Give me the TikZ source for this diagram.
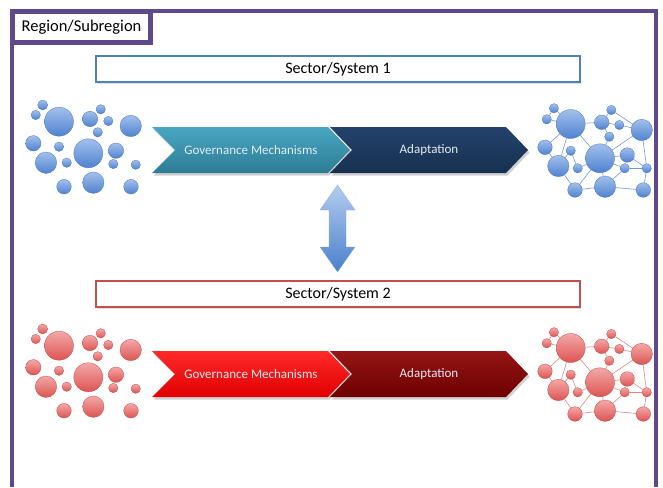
\documentclass[tikz,border=0pt]{standalone}
\usepackage{fontspec}
\setmainfont{Carlito}
\usetikzlibrary{backgrounds,shadows}
\definecolor{framepurple}{HTML}{5E4A8B}
\definecolor{secblue}{HTML}{4F81BD}
\definecolor{secred}{HTML}{C0504D}
\definecolor{tealA}{HTML}{4AA6C2}
\definecolor{tealB}{HTML}{2C7C94}
\definecolor{navyA}{HTML}{24426B}
\definecolor{navyB}{HTML}{16304F}
\definecolor{redA}{HTML}{FF2A2A}
\definecolor{redB}{HTML}{E00000}
\definecolor{dredA}{HTML}{951515}
\definecolor{dredB}{HTML}{6E0000}
\definecolor{bubA}{HTML}{A2C0EC}
\definecolor{bubB}{HTML}{4F82CF}
\definecolor{bubD}{HTML}{4A78BE}
\definecolor{rbubA}{HTML}{F4A8A8}
\definecolor{rbubB}{HTML}{DB5552}
\definecolor{rbubD}{HTML}{C64A48}
\definecolor{arrA}{HTML}{B2CDF0}
\definecolor{arrB}{HTML}{4A7FCB}
\definecolor{chevtext}{HTML}{E4EBF2}
\tikzset{
  framestyle/.style={draw=framepurple,line width=4.5pt},
  sectorbox/.style={draw=#1,line width=1.3pt,fill=white,minimum width=484pt,minimum height=26pt,inner sep=0pt,font=\fontsize{16}{18}\selectfont,
    drop shadow={opacity=0.25,shadow xshift=1pt,shadow yshift=-1.5pt}},
  chevlabel/.style={text=chevtext,font=\fontsize{13}{15}\selectfont,inner sep=1pt},
  chevshadow/.style={fill=black,opacity=0.18},
  bub/.style={circle,inner sep=0pt,minimum size=2*#1,top color=bubA,bottom color=bubB,draw=bubD,line width=0.3pt},
  rbub/.style={circle,inner sep=0pt,minimum size=2*#1,top color=rbubA,bottom color=rbubB,draw=rbubD,line width=0.3pt},
  bedge/.style={draw=bubD!75,line width=0.6pt},
  redge/.style={draw=rbubD!65,line width=0.6pt},
}
\begin{document}
\begin{tikzpicture}[x=1pt,y=-1pt]
\useasboundingbox (0,0) rectangle (663,487);
% frame
\draw[framestyle] (12,487) -- (12,11.25) -- (656,11.25) -- (656,487);
\node[draw=framepurple,line width=5pt,fill=white,minimum width=138pt,minimum height=31pt,inner sep=0pt,font=\fontsize{16.5}{18}\selectfont] (reg) at (81.5,27) {Region/Subregion};
% sector boxes
\node[sectorbox=secblue] (s1) at (338,69) {Sector/System 1};
\node[sectorbox=secred] (s2) at (338,294) {Sector/System 2};
% chevrons
\foreach \dy/\ca/\cb/\cc/\cd in {0/tealA/tealB/navyA/navyB,224/redA/redB/dredA/dredB}{
  \begin{scope}[yshift=-\dy pt]
  \fill[chevshadow] (153.5,129.5) -- (329.5,129.5) -- (351.5,152.5) -- (329.5,175.5) -- (153.5,175.5) -- (176.5,152.5) -- cycle;
  \fill[chevshadow] (331.5,129.5) -- (507.5,129.5) -- (529.5,152.5) -- (507.5,175.5) -- (331.5,175.5) -- (353.5,152.5) -- cycle;
  \shade[top color=\ca,bottom color=\cb] (152,127) -- (328,127) -- (350,150) -- (328,173) -- (152,173) -- (175,150) -- cycle;
  \shade[top color=\cc,bottom color=\cd] (330,127) -- (506,127) -- (528,150) -- (506,173) -- (330,173) -- (352,150) -- cycle;
  \end{scope}
}
\node[chevlabel] (gov1) at (251,150) {Governance Mechanisms};
\node[chevlabel] (ad1) at (429,150) {Adaptation};
\node[chevlabel] (gov2) at (251,374) {Governance Mechanisms};
\node[chevlabel] (ad2) at (429,374) {Adaptation};
% double arrow
\shade[top color=arrA,bottom color=arrB,draw=bubD!60,line width=0.3pt]
  (337.5,185) -- (355,210) -- (346,210) -- (346,247) -- (355,247) -- (337.5,272) -- (320,247) -- (329,247) -- (329,210) -- (320,210) -- cycle;
% bubble clusters
\foreach \x/\y/\r [count=\i] in {42.7/105/5, 35.7/115/4.7, 59/121.7/14.5, 90/119/7.7, 100.7/109.3/4.7, 108.3/121/4.7, 130.7/126/10.7, 97.7/132.3/4.7, 33.3/143.3/7.7, 59/146.7/4.7, 88.3/153.3/14.5, 116/150.7/7.7, 46/162.7/10.7, 66.7/162.7/4.7, 113.3/164/4.7, 135.7/164.7/4.7, 64/186.7/7.3, 93.3/182.7/10.7, 131/186.7/7.3}{
  \node[bub=\r pt] (BL\i) at (\x,\y) {};
  \node[rbub=\r pt] (RL\i) at (\x,\y+224) {};
}
\foreach \x/\y/\r [count=\i] in {554/108.3/4.7, 546.7/119.3/4.7, 570.7/124/14.5, 601.7/122.3/7.3, 611.3/110/4.7, 619.3/125/4.7, 609.3/136.7/4.7, 641.7/130/10.7, 545/147.3/7.3, 570.7/150.7/4.7, 600/158.3/14.5, 627.3/155/7.3, 558.3/166/10.7, 577.7/168.3/4.7, 624.7/168.3/4.7, 646.7/168.3/4.7, 575/190/7.3, 605/186.7/10.7, 643.3/190/7.3}{
  \node[bub=\r pt] (BR\i) at (\x,\y) {};
  \node[rbub=\r pt] (RR\i) at (\x,\y+224) {};
}
\begin{scope}[on background layer]
\fill[white] (0,0) rectangle (663,487);
\foreach \a/\b in {1/2,1/3,2/3,3/4,3/9,3/11,3/13,4/5,4/6,4/7,5/8,6/8,7/11,8/11,8/16,9/13,10/14,10/13,11/12,11/17,11/18,11/15,11/14,12/15,12/16,15/16,15/18,16/19,18/19,17/18,13/17}{
  \draw[bedge] (BR\a) -- (BR\b);
  \draw[redge] (RR\a) -- (RR\b);
}
\end{scope}
\end{tikzpicture}
\end{document}
